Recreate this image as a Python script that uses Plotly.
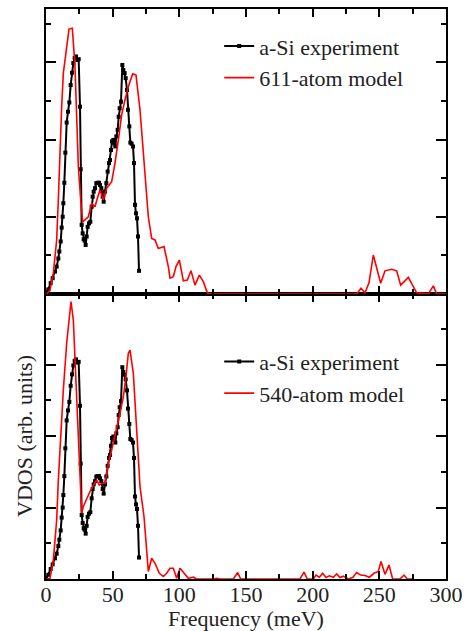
import plotly.graph_objects as go

# Experimental a-Si VDOS (same data in both panels)
exp_freq = [0.0, 1.75, 3.5, 5.0, 6.75, 8.0, 9.25, 10.0, 11.0, 11.75, 12.5, 13.0, 13.75, 14.5, 15.5, 16.5,
            17.5, 18.5, 19.5, 20.5, 21.5, 22.5, 23.5, 24.5, 25.5, 26.0, 26.75, 27.5, 28.25, 29.0, 29.75,
            30.5, 31.25, 32.25, 33.25, 34.25, 35.0, 35.75, 36.75, 37.75, 38.75, 39.75, 40.5, 41.5, 42.5,
            43.25, 44.25, 45.25, 46.25, 47.25, 48.0, 48.75, 49.5, 50.5, 51.25, 52.0, 52.75, 53.75, 54.5,
            55.25, 56.25, 57.25, 58.0, 59.0, 59.75, 60.75, 61.5, 62.5, 63.25, 64.25, 65.25, 66.0, 66.75,
            67.5, 68.25, 69.0, 69.75]
exp_vdos = [0.02, 0.12, 0.28, 0.41, 0.58, 0.71, 0.92, 1.10, 1.36, 1.72, 2.00, 2.35, 2.88, 3.66, 4.44, 4.72,
            4.96, 5.41, 5.73, 5.98, 6.11, 6.15, 6.06, 6.08, 4.85, 3.23, 1.79, 1.57, 1.42, 1.38, 1.27,
            1.49, 1.74, 1.83, 1.87, 2.26, 2.52, 2.65, 2.74, 2.87, 2.88, 2.88, 2.82, 2.74, 2.52,
            2.39, 2.65, 2.87, 3.17, 3.39, 3.47, 3.73, 3.95, 3.99, 3.90, 3.82, 4.08, 4.25, 4.59,
            4.81, 4.98, 5.93, 5.80, 5.72, 5.59, 5.28, 4.77, 4.34, 3.92, 3.89, 3.82, 3.39, 2.31,
            2.09, 1.96, 1.49, 0.60]

# 611-atom model (top panel)
m611_freq = [0.5, 3, 5.5, 8, 9.25, 10.5, 11.75, 13, 15.5, 17.25, 19.75, 21.75, 23, 24.25, 26, 27.5, 29.25,
             31.75, 34.25, 36.75, 38.5, 40.5, 43, 45.5, 49.25, 51.75, 54.25, 56.75, 59.25, 61.75, 65,
             67.5, 70.5, 73.5, 76.75, 79.25, 81.75, 84.25, 88.5, 91.75, 93, 95.5, 97.5, 100, 103, 106,
             108.75, 111.75, 115, 118, 121, 123, 225.5, 233, 236.25, 239.25, 242.25, 245.5, 251, 254.25,
             259.25, 263, 266, 271.75, 278, 283, 286.75, 290.5, 293, 300]
m611_vdos = [0.0, 0.1, 0.54, 1.4, 2.44, 3.73, 4.85, 5.72, 6.41, 6.86, 6.88, 5.89, 4.59, 3.3, 2.44, 1.87, 1.92,
             2.0, 2.35, 2.26, 2.48, 2.69, 2.44, 2.74, 2.91, 3.39, 3.99, 4.64, 5.03, 5.37, 5.70,
             5.67, 4.77, 3.47, 2.0, 1.44, 1.40, 1.18, 1.23, 0.71, 0.41, 0.45, 0.71, 0.88, 0.34, 0.36,
             0.6, 0.23, 0.49, 0.32, 0.03, 0.0, 0.0, 0.0, 0.15, 0.03, 0.29, 1.01, 0.28, 0.6,
             0.64, 0.6, 0.23, 0.43, 0.03, 0.02, 0.0, 0.21, 0.0, 0.0]

# 540-atom model (bottom panel)
m540_freq = [0.5, 3, 5.5, 8, 9.25, 11, 13, 15.5, 17.5, 18.75, 20.5, 21.75, 23.5, 25, 26.75, 28, 30.5, 33,
             35.5, 38, 40, 41.75, 44.25, 46.75, 49.25, 51.75, 55.5, 58, 60, 61.75, 63, 65.5, 68, 70.5,
             73.5, 75.5, 76.75, 79.25, 81.75, 85, 88, 90.5, 93, 95.5, 98, 100.5, 103, 106.75, 110.5,
             113, 125.5, 128, 130.5, 140.5, 143.75, 146, 190.5, 193.5, 196, 200.5, 202.5, 205, 207.5,
             210, 212.5, 215.5, 218, 220.5, 223, 226.75, 230, 233, 236, 239.25, 242.5, 246, 249.25,
             251.25, 254.25, 257.25, 260, 265.5, 268.5, 271, 276]
m540_vdos = [0.0, 0.02, 0.53, 1.65, 2.77, 4.08, 5.29, 6.6, 7.35, 7.77, 7.25, 6.23, 4.73, 3.15, 1.84, 2.03,
             2.26, 2.45, 2.63, 2.77, 2.63, 2.68, 2.68, 3.24, 3.61, 3.99, 4.64, 5.11, 5.67, 6.32, 6.41,
             5.76, 4.08, 2.59, 1.75, 0.72, 0.21, 0.58, 0.44, 0.16, 0.07, 0.16, 0.3, 0.3, 0.02, 0.3,
             0.18, 0.02, 0.05, 0.0, 0.0, 0.02, 0.0, 0.0, 0.18, 0.0, 0.0, 0.19, 0.0, 0.0, 0.11, 0.05,
             0.16, 0.04, 0.09, 0.05, 0.14, 0.04, 0.08, 0.0, 0.04, 0.18, 0.11, 0.1, 0.05, 0.16, 0.21,
             0.49, 0.13, 0.39, 0.0, 0.0, 0.11, 0.0, 0.0]

x_ticks = [0, 50, 100, 150, 200, 250, 300]
exp_name = "a-Si experiment"
top_model_name = "611-atom model"
bottom_model_name = "540-atom model"

FONT = "Liberation Serif"
FS = 22
TXT = "#222"

fig = go.Figure()
exp_style = dict(mode="lines+markers", line=dict(color="black", width=2),
                 marker=dict(symbol="square", size=4, color="black"))
model_style = dict(mode="lines", line=dict(color="#ff0000", width=1.6))

fig.add_trace(go.Scatter(x=exp_freq, y=exp_vdos, name=exp_name, xaxis="x2", yaxis="y2",
                         legend="legend", **exp_style))
fig.add_trace(go.Scatter(x=m611_freq, y=m611_vdos, name=top_model_name, xaxis="x2", yaxis="y2",
                         legend="legend", **model_style))
fig.add_trace(go.Scatter(x=exp_freq, y=exp_vdos, name=exp_name, xaxis="x", yaxis="y",
                         legend="legend2", **exp_style))
fig.add_trace(go.Scatter(x=m540_freq, y=m540_vdos, name=bottom_model_name, xaxis="x", yaxis="y",
                         legend="legend2", **model_style))

xcommon = dict(range=[0, 300], showline=True, linecolor="black", linewidth=2, mirror="ticks",
               ticks="inside", ticklen=8, tickwidth=1.5, tickcolor="black", dtick=50, tick0=0,
               minor=dict(dtick=25, ticks="inside", ticklen=5, tickwidth=1.5, tickcolor="black"),
               showgrid=False, zeroline=False, automargin=False)
ycommon = dict(showline=True, linecolor="black", linewidth=2, mirror="ticks",
               ticks="inside", ticklen=10, tickwidth=1.5, tickcolor="black", dtick=2, tick0=0,
               minor=dict(dtick=1, ticks="inside", ticklen=5, tickwidth=1.5, tickcolor="black"),
               showgrid=False, zeroline=False, showticklabels=False, automargin=False)

fig.update_layout(
    width=468, height=631,
    margin=dict(l=46, r=22, t=9, b=52),
    paper_bgcolor="white", plot_bgcolor="white",
    font=dict(family=FONT, size=FS, color=TXT),
    xaxis=dict(anchor="y", domain=[0, 1], tickvals=x_ticks, ticktext=[str(v) for v in x_ticks],
               tickfont=dict(family=FONT, size=FS, color=TXT), ticklabelstandoff=-5,
               title=dict(text="Frequency (meV)", font=dict(family=FONT, size=FS, color=TXT), standoff=7),
               **xcommon),
    xaxis2=dict(anchor="y2", domain=[0, 1], matches="x", showticklabels=False, **xcommon),
    yaxis=dict(anchor="x", domain=[0, 0.5], range=[0, 7.98], **ycommon),
    yaxis2=dict(anchor="x2", domain=[0.5, 1], range=[0, 7.38], **ycommon),
    legend=dict(x=0.433, y=0.9715, xanchor="left", yanchor="top", bgcolor="rgba(0,0,0,0)",
                font=dict(family=FONT, size=FS, color=TXT), tracegroupgap=0, itemwidth=30),
    legend2=dict(x=0.433, y=0.418, xanchor="left", yanchor="top", bgcolor="rgba(0,0,0,0)",
                 font=dict(family=FONT, size=FS, color=TXT), tracegroupgap=0, itemwidth=30),
    showlegend=True,
    annotations=[dict(text="VDOS (arb. units)", textangle=-90, xref="paper", yref="paper",
                      x=-0.0525, y=0.251, xanchor="center", yanchor="middle", showarrow=False,
                      font=dict(family=FONT, size=FS, color=TXT))],
)

fig.write_html("out.html", config={"displayModeBar": False},
               post_script="document.body.style.margin='0';document.body.style.overflow='hidden';")
